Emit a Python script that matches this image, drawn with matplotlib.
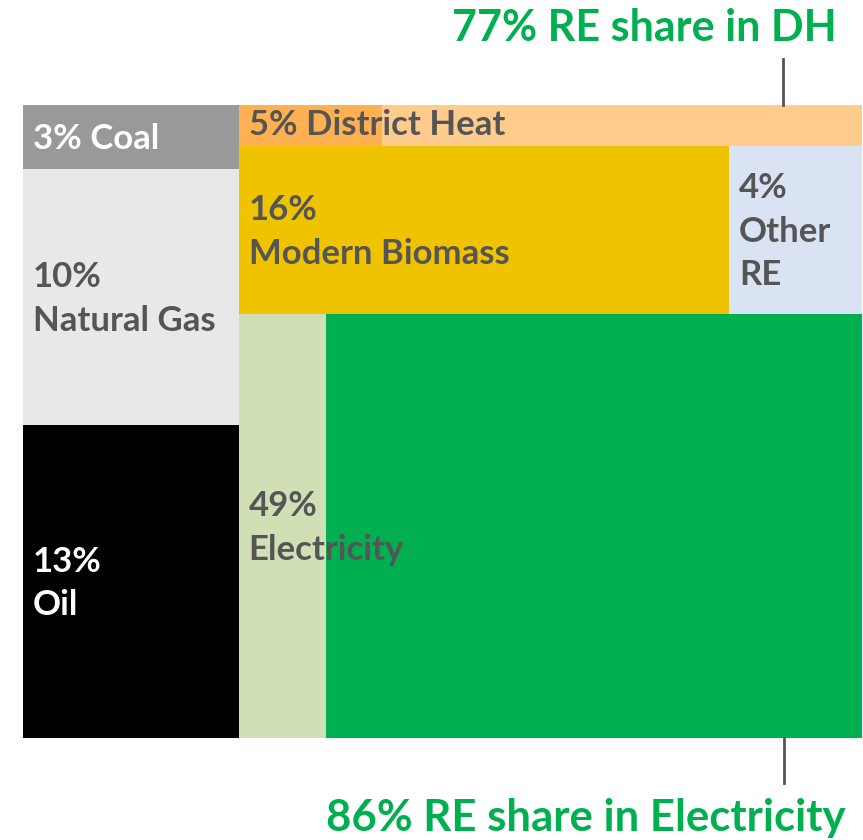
import matplotlib.pyplot as plt
from matplotlib.patches import Rectangle

plt.rcParams['font.family'] = ['Lato', 'DejaVu Sans']

# shares of final energy (%)
left_names = ["Coal", "Natural Gas", "Oil"]
left_values = [2.6, 10.4, 12.7]
left_labels = ["3% Coal", "10%\nNatural Gas", "13%\nOil"]
left_colors = ["#999999", "#E8E8E8", "#000000"]
left_text = ["white", "#555555", "white"]

dh_value = 4.8
dh_label = "5% District Heat"
dh_re_share = 0.77

mid_values = [15.5, 4.2]
mid_labels = ["16%\nModern Biomass", "4%\nOther\nRE"]
mid_colors = ["#F0C300", "#DAE3F3"]

elec_value = 49.8
elec_label = "49%\nElectricity"
elec_re_share = 0.86

W, H = 863, 840
fig = plt.figure(figsize=(W / 100, H / 100), dpi=100)
# plotting area in pixels: x 23..862, y 105..738
ax = fig.add_axes([23 / W, (H - 738) / H, 839 / W, 633 / H])
ax.set_xlim(0, 1)
ax.set_ylim(1, 0)
ax.axis("off")

FS = 25
LS = 1.45
GREY = "#555555"
pad = 10 / 839

total = sum(left_values) + dh_value + sum(mid_values) + elec_value
left_sum = sum(left_values)
left_w = left_sum / total

# left column
y = 0
for v, lab, c, tc in zip(left_values, left_labels, left_colors, left_text):
    h = v / left_sum
    ax.add_patch(Rectangle((0, y), left_w, h, facecolor=c, edgecolor="none"))
    ax.text(pad, y + h / 2 + 0.003, lab, color=tc, fontsize=FS, fontweight="bold",
            va="center", ha="left", linespacing=LS)
    y += h

# right part
right_sum = total - left_sum
right_w = 1 - left_w
y = 0
h = dh_value / right_sum
ax.add_patch(Rectangle((left_w, y), right_w, h, facecolor="#FFCC8E", edgecolor="none"))
ax.add_patch(Rectangle((left_w, y), right_w * (1 - dh_re_share), h,
                       facecolor="#FFB152", edgecolor="none"))
ax.text(left_w + pad, y + h / 2, dh_label, color=GREY, fontsize=FS,
        fontweight="bold", va="center", ha="left")
y += h

h = sum(mid_values) / right_sum
x = left_w
for v, lab, c in zip(mid_values, mid_labels, mid_colors):
    w = right_w * v / sum(mid_values)
    ax.add_patch(Rectangle((x, y), w, h, facecolor=c, edgecolor="none"))
    ax.text(x + pad, y + h / 2 + 0.003, lab, color=GREY, fontsize=FS, fontweight="bold",
            va="center", ha="left", linespacing=LS)
    x += w
y += h

h = 1 - y
ax.add_patch(Rectangle((left_w, y), right_w, h, facecolor="#00AF50", edgecolor="none"))
ax.add_patch(Rectangle((left_w, y), right_w * (1 - elec_re_share), h,
                       facecolor="#D0E0B4", edgecolor="none"))
ax.text(left_w + pad, y + h / 2 + 0.003, elec_label, color=GREY, fontsize=FS,
        fontweight="bold", va="center", ha="left", linespacing=LS)

# callout lines and headlines
px = 1 / 633
ax.plot([0.906, 0.906], [0, -46 * px], color=GREY, lw=2, clip_on=False)
ax.plot([0.907, 0.907], [1, 1 + 45 * px], color=GREY, lw=2, clip_on=False)

fig.text(837 / W, 1 - 28 / H, "77% RE share in DH", color="#00B050",
         fontsize=31, fontweight="bold", ha="right", va="center")
fig.text(846 / W, 1 - 818 / H, "86% RE share in Electricity", color="#00B050",
         fontsize=31.5, fontweight="bold", ha="right", va="center")

fig.savefig("out.png", dpi=100)
